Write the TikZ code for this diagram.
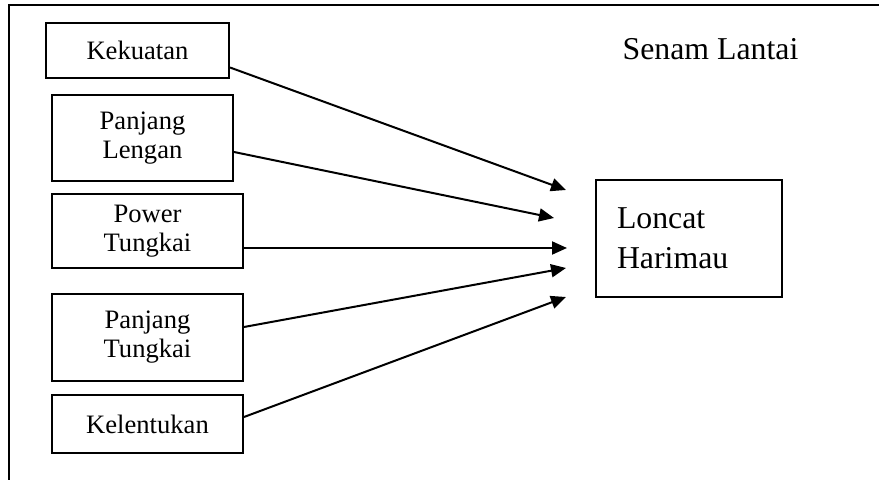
\documentclass[tikz,border=0pt]{standalone}
\usepackage{fontspec}
\setmainfont{Liberation Serif}
\usepackage{tikz}
\usetikzlibrary{arrows.meta, positioning}
\tikzset{
		factor/.style={draw, line width=1pt, align=center, inner sep=2pt,
			font=\fontsize{13.3}{14.5}\selectfont},
		result/.style={draw, line width=1pt, align=left, text width=72pt, inner sep=0pt,
			font=\fontsize{15.9}{20}\selectfont},
		frame/.style={line width=1pt},
		link/.style={line width=1pt, -{Triangle[length=7.5pt, width=6.5pt]}}
	}
\begin{document}
\begin{tikzpicture}[x=0.5pt, y=-0.5pt]
		\useasboundingbox (0,0) rectangle (879,480);
		\draw[frame] (9,480) -- (9,5) -- (879,5);

		\node[factor, minimum width=91.5pt, minimum height=27.5pt] (kek) at (137.5,50.5) {Kekuatan};
		\node[factor, minimum width=90.5pt, minimum height=43pt]   (pl)  at (142.5,138)  {Panjang\\Lengan};
		\node[factor, minimum width=95.5pt, minimum height=37pt]   (pw)  at (147.5,231)  {Power\\Tungkai};
		\node[factor, minimum width=95.5pt, minimum height=43.5pt] (pt)  at (147.5,337.5) {Panjang\\Tungkai};
		\node[factor, minimum width=95.5pt, minimum height=29pt]   (kel) at (147.5,424)  {Kelentukan};

		\node[result, minimum width=93pt, minimum height=58.5pt] (lh) at (689,238.5) {Loncat\\Harimau};
		\node[font=\fontsize{15.9}{20}\selectfont, anchor=base] (title) at (710.5,60) {Senam Lantai};

		\coordinate (t1) at (566,190);
		\coordinate (t2) at (554,218);
		\coordinate (t3) at (567,248);
		\coordinate (t4) at (566,268);
		\coordinate (t5) at (566,297);

		\path[link] ([yshift=-8.5pt]kek.east) edge (t1);
		\path[link] ([yshift=-7pt]pl.east)    edge (t2);
		\path[link] ([yshift=-8.5pt]pw.east)  edge (t3);
		\path[link] ([yshift=5.25pt]pt.east)  edge (t4);
		\path[link] ([yshift=3.5pt]kel.east)  edge (t5);

	\end{tikzpicture}
\end{document}
